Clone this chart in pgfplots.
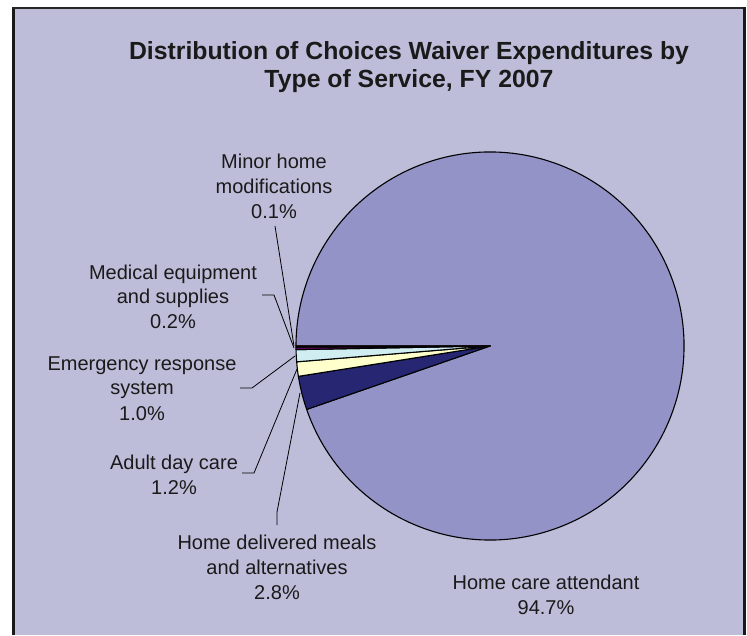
\documentclass[border=0pt]{standalone}
\usepackage{pgfplots}
\pgfplotsset{compat=1.18}
\usepackage{fontspec}
\setmainfont{Liberation Sans}
\definecolor{bg}{RGB}{189,189,218}
\definecolor{pieA}{RGB}{147,147,200}
\definecolor{pieB}{RGB}{38,38,115}
\definecolor{pieC}{RGB}{255,255,204}
\definecolor{pieD}{RGB}{208,238,242}
\definecolor{pieE}{RGB}{102,0,102}
\definecolor{pieF}{RGB}{255,128,128}
\definecolor{txt}{RGB}{26,26,26}
% slice: start cumulative percent, end cumulative percent, colour
\newcommand{\slice}[3]{%
  \filldraw[fill=#3, draw=black, line width=1.1pt, line join=round]
    (axis cs:490,289) -- ++({180+3.6*#1}:194pt)
    arc[start angle={180+3.6*#1}, end angle={180+3.6*#2}, radius=194pt] -- cycle;}
\newcommand{\lab}[3]{\node[anchor=base, text=txt, inner sep=0pt, font=\fontsize{20}{24}\selectfont] at (axis cs:#1,#2) {#3};}
\begin{document}
\begin{tikzpicture}
\begin{axis}[x=1pt, y=1pt, xmin=0, xmax=747, ymin=0, ymax=635,
  hide axis, clip=false, scale only axis]
% frame
\fill[white] (axis cs:0,0) rectangle (axis cs:747,635);
\fill[bg] (axis cs:12,0) rectangle (axis cs:744,627);
\fill[black!90] (axis cs:11.5,0) rectangle (axis cs:14.5,628);
\fill[black!85] (axis cs:11.5,626) rectangle (axis cs:746,628);
\fill[black!90] (axis cs:743,0) rectangle (axis cs:746,628);
% title
\node[anchor=base, text=txt, font=\bfseries\fontsize{24.8}{28}\selectfont] at (axis cs:409,575) {Distribution of Choices Waiver Expenditures by};
\node[anchor=base, text=txt, font=\bfseries\fontsize{24.8}{28}\selectfont] at (axis cs:409,547) {Type of Service, FY 2007};
% pie: values in percent
% Minor home modifications 0.1, Medical equipment 0.2, Emergency response 1.0,
% Adult day care 1.2, Home delivered meals 2.8, Home care attendant 94.7
\slice{5.3}{100}{pieA}
\slice{2.5}{5.3}{pieB}
\slice{1.3}{2.5}{pieC}
\slice{0.3}{1.3}{pieD}
\slice{0.1}{0.3}{pieE}
\slice{0}{0.1}{pieF}
% leader lines
\addplot[black, line width=0.8pt, mark=none] coordinates {(275,409) (294,289)};
\addplot[black, line width=0.8pt, mark=none] coordinates {(262,340) (274,340) (294,287)};
\addplot[black, line width=0.8pt, mark=none] coordinates {(240,247) (252,247) (295,279)};
\addplot[black, line width=0.8pt, mark=none] coordinates {(242,162) (254,162) (297,266)};
\addplot[black, line width=0.8pt, mark=none] coordinates {(277,110) (277,123) (300,242)};
% labels
\lab{274}{466}{Minor home}
\lab{274}{441}{modifications}
\lab{274}{416.5}{0.1\%}
\lab{173}{355}{Medical equipment}
\lab{173}{331}{and supplies}
\lab{173}{306}{0.2\%}
\lab{142}{264}{Emergency response}
\lab{142}{240}{system}
\lab{142}{214}{1.0\%}
\lab{174}{165}{Adult day care}
\lab{174}{141}{1.2\%}
\lab{277}{86}{Home delivered meals}
\lab{277}{61}{and alternatives}
\lab{277}{36}{2.8\%}
\lab{546}{46}{Home care attendant}
\lab{546}{21}{94.7\%}
\end{axis}
\end{tikzpicture}
\end{document}
